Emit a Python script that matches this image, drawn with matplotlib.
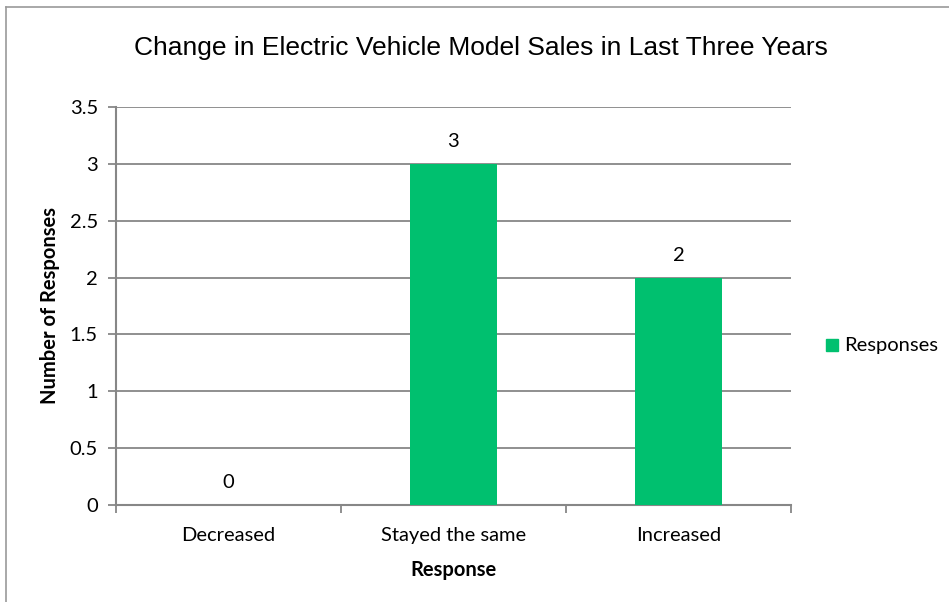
import matplotlib.pyplot as plt
from matplotlib.patches import Rectangle

categories = ["Decreased", "Stayed the same", "Increased"]
responses = [0, 3, 2]
y_ticks = [0, 0.5, 1, 1.5, 2, 2.5, 3, 3.5]
y_tick_labels = ["0", "0.5", "1", "1.5", "2", "2.5", "3", "3.5"]

GREEN = "#00C06F"
GRAY = "#878787"
LABEL_FONT = "Lato"
FS = 14.5

fig = plt.figure(figsize=(9.49, 6.02), dpi=100)
fig.patch.set_facecolor("white")

# outer chart border (only left/top visible in the reference)
fig.add_artist(plt.Line2D([5.5 / 949, 5.5 / 949], [0, 1 - 7 / 602], color="#9a9a9a", lw=1.2, transform=fig.transFigure))
fig.add_artist(plt.Line2D([5.5 / 949, 1], [1 - 7 / 602, 1 - 7 / 602], color="#9a9a9a", lw=1.2, transform=fig.transFigure))

ax = fig.add_axes([116 / 949, 97 / 602, 675 / 949, 398 / 602])
x = list(range(len(categories)))
bars = ax.bar(x, responses, width=0.39, color=GREEN, zorder=3)

ax.set_xlim(-0.5, 2.5)
ax.set_ylim(0, 3.5)
ax.set_yticks(y_ticks)
ax.set_yticklabels(y_tick_labels, fontfamily=LABEL_FONT, fontsize=FS)
ax.yaxis.grid(True, color=GRAY, lw=1.3, zorder=0)
ax.set_axisbelow(True)

ax.set_xticks(x)
ax.set_xticklabels(categories, fontfamily=LABEL_FONT, fontsize=FS)
ax.set_xticks([-0.5, 0.5, 1.5, 2.5], minor=True)
ax.tick_params(axis="x", which="major", length=0, pad=16)
ax.tick_params(axis="x", which="minor", length=6, width=1.3, color=GRAY, direction="out")
ax.tick_params(axis="y", length=6, width=1.3, color=GRAY, direction="out", pad=7)

for side in ["top", "right"]:
    ax.spines[side].set_visible(False)
for side in ["left", "bottom"]:
    ax.spines[side].set_color(GRAY)
    ax.spines[side].set_linewidth(1.5)

for xi, v in zip(x, responses):
    ax.annotate(str(v), (xi, v), xytext=(0, 16), textcoords="offset points",
                ha="center", va="center", fontfamily=LABEL_FONT, fontsize=FS)

ax.set_ylabel("Number of Responses", fontfamily=LABEL_FONT, fontsize=FS, fontweight="bold", labelpad=7)
ax.set_xlabel("Response", fontfamily=LABEL_FONT, fontsize=FS, fontweight="bold", labelpad=11)

fig.text(481 / 949, 1 - 48 / 602, "Change in Electric Vehicle Model Sales in Last Three Years",
         ha="center", va="center", fontfamily="Liberation Sans", fontsize=19)

# legend
fig.add_artist(Rectangle((826 / 949, 1 - 351 / 602), 12 / 949, 12 / 602, color=GREEN, transform=fig.transFigure))
fig.text(844 / 949, 1 - 345 / 602, "Responses", ha="left", va="center", fontfamily=LABEL_FONT, fontsize=FS)

fig.savefig("out.png", dpi=100)
